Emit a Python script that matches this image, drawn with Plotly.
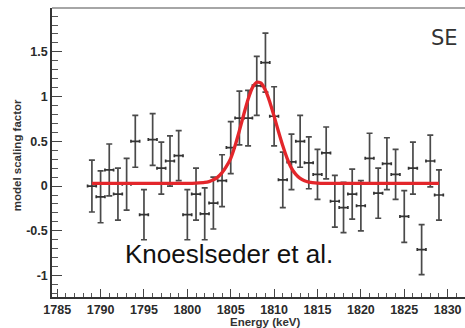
import plotly.graph_objects as go

# ---- data ----
energy = [1789, 1790, 1791, 1792, 1793, 1794, 1795, 1796, 1797, 1798,
          1799, 1800, 1801, 1802, 1803, 1804, 1805, 1806, 1807, 1808,
          1809, 1810, 1811, 1812, 1813, 1814, 1815, 1816, 1817, 1818,
          1819, 1820, 1821, 1822, 1823, 1824, 1825, 1826, 1827, 1828, 1829]
scaling = [0.00, -0.12, 0.18, -0.09, 0.02, 0.50, -0.32, 0.52, 0.20, 0.28,
           0.34, -0.32, -0.09, -0.31, -0.19, 0.06, 0.43, 0.76, 0.76, 1.12,
           1.38, 0.78, 0.07, 0.27, 0.50, 0.26, 0.13, 0.37, -0.17, -0.24,
           -0.09, -0.22, 0.31, -0.08, 0.25, 0.13, -0.34, 0.20, -0.71, 0.28, -0.10]
scaling_err = [0.29, 0.29, 0.29, 0.29, 0.29, 0.29, 0.28, 0.29, 0.29, 0.28,
               0.28, 0.28, 0.29, 0.29, 0.29, 0.29, 0.29, 0.30, 0.31, 0.33,
               0.33, 0.33, 0.31, 0.31, 0.29, 0.29, 0.28, 0.29, 0.29, 0.28,
               0.28, 0.28, 0.28, 0.28, 0.29, 0.28, 0.29, 0.29, 0.28, 0.29, 0.28]
bin_half_width = [0.5] * len(energy)

fit_energy = [1789, 1795, 1800, 1801, 1802, 1802.5, 1803, 1803.5, 1804, 1804.5,
              1805, 1805.5, 1806, 1806.5, 1807, 1807.5, 1808, 1808.5, 1809,
              1809.5, 1810, 1810.5, 1811, 1811.5, 1812, 1812.5, 1813, 1813.5,
              1814, 1815, 1816, 1822, 1829]
fit_value = [0.03, 0.03, 0.03, 0.033, 0.04, 0.05, 0.07, 0.10, 0.15, 0.22,
             0.31, 0.45, 0.62, 0.80, 0.97, 1.10, 1.16, 1.15, 1.07,
             0.94, 0.78, 0.61, 0.45, 0.31, 0.20, 0.13, 0.085, 0.06,
             0.045, 0.033, 0.03, 0.03, 0.03]

x_range = [1784.4, 1832.0]
y_range = [-1.24, 1.99]

fig = go.Figure()

fig.add_trace(go.Scatter(
    x=energy, y=scaling, mode="markers",
    marker=dict(size=1, color="#333"),
    error_y=dict(type="data", array=scaling_err, visible=True,
                 color="#4a4a4a", thickness=1.7, width=3),
    error_x=dict(type="data", array=bin_half_width, visible=True,
                 color="#333", thickness=1.7, width=1.5),
    showlegend=False, hoverinfo="skip",
))

fig.add_trace(go.Scatter(
    x=fit_energy, y=fit_value, mode="lines",
    line=dict(color="#e3262b", width=3.3, shape="spline", smoothing=0.6),
    showlegend=False, hoverinfo="skip",
))

tickfont = dict(family="Liberation Sans, Arial, sans-serif", size=12.5,
                color="#2a2a2a", weight="bold")

fig.update_xaxes(
    range=x_range, tickmode="linear", tick0=1785, dtick=5,
    ticks="inside", ticklen=8, tickwidth=1.2, tickcolor="#444",
    minor=dict(ticks="inside", dtick=1, ticklen=4, tickwidth=1, tickcolor="#555"),
    showline=True, linecolor="#333", linewidth=1.5,
    showgrid=False, zeroline=False, tickfont=tickfont,
)
fig.update_yaxes(
    range=y_range, tickmode="array",
    tickvals=[-1, -0.5, 0, 0.5, 1, 1.5], ticktext=["-1", "-0.5", "0", "0.5", "1", "1.5"],
    ticks="inside", ticklen=10, tickwidth=1.2, tickcolor="#444",
    minor=dict(ticks="inside", tickvals=[round(-1.2 + 0.1 * i, 1) for i in range(32)],
               ticklen=6, tickwidth=1, tickcolor="#555"),
    showline=True, linecolor="#333", linewidth=1.5,
    showgrid=False, zeroline=False, tickfont=tickfont,
)

# top frame line
fig.add_shape(type="line", xref="paper", yref="paper", x0=0, x1=1, y0=1, y1=1,
              line=dict(color="#888", width=1.5))

fig.add_annotation(text="SE", xref="x", yref="y", x=1829.6, y=1.66,
                   showarrow=False,
                   font=dict(family="DejaVu Sans, sans-serif", size=21, color="#333"))
fig.add_annotation(text="Knoeslseder et al.", xref="x", yref="y", x=1804.8, y=-0.76,
                   showarrow=False,
                   font=dict(family="Liberation Sans, Arial, sans-serif", size=26, color="#111"))
fig.add_annotation(text="Energy (keV)", xref="paper", yref="paper", x=0.515, y=-0.085,
                   yanchor="middle", showarrow=False,
                   font=dict(family="Liberation Sans, Arial, sans-serif", size=11.5,
                             color="#333", weight="bold"))
fig.add_annotation(text="model scaling factor", xref="paper", yref="paper", x=-0.085, y=0.49,
                   textangle=-90, xanchor="center", showarrow=False,
                   font=dict(family="Liberation Sans, Arial, sans-serif", size=11.5,
                             color="#333", weight="bold"))

fig.update_layout(
    width=465, height=328,
    margin=dict(l=52, r=0, t=8, b=31),
    paper_bgcolor="white", plot_bgcolor="white",
)

fig.write_html("out.html")
